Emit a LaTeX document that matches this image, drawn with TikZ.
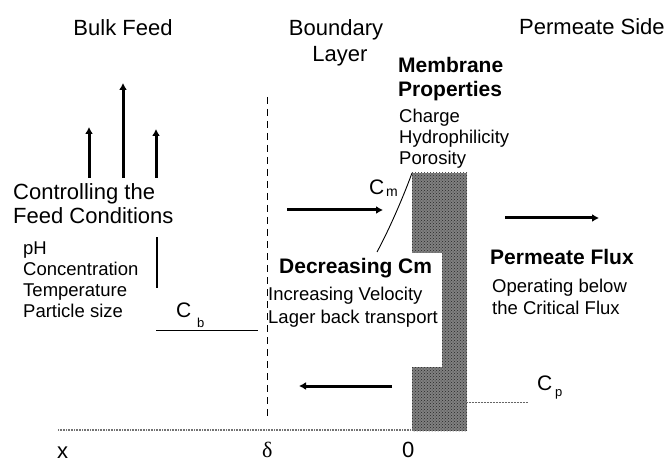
\documentclass[tikz,border=0pt]{standalone}
\usepackage{fontspec}
\setmainfont{Liberation Sans}
\newfontfamily\serifgreek{Liberation Serif}
\usetikzlibrary{arrows.meta,patterns}
\tikzset{
  big/.style={font=\fontsize{22}{25}\selectfont, inner sep=0pt, anchor=base west},
  bigb/.style={font=\fontsize{21}{24}\selectfont\bfseries, inner sep=0pt, anchor=base west},
  small/.style={font=\fontsize{18.5}{21}\selectfont, inner sep=0pt, anchor=base west},
  cfont/.style={font=\fontsize{21}{23}\selectfont, inner sep=0pt, anchor=base west},
  fatarrow/.style={line width=3pt, -{Latex[length=7pt,width=8pt]}},
  thin/.style={line width=0.9pt},
}
\begin{document}
\begin{tikzpicture}[x=1pt,y=-1pt]
\useasboundingbox (0,0) rectangle (671,462);
% headers
\node[big, anchor=base] (bulk) at (123,36) {Bulk Feed};
\node[big, anchor=base] (bl1) at (336,36) {Boundary};
\node[big, anchor=base] (bl2) at (340,62) {Layer};
\node[big] (perm) at (519,35) {Permeate Side};
\node[bigb] (mp1) at (398,73) {Membrane};
\node[bigb] (mp2) at (398,97) {Properties};
\node[small] (ch) at (399,123) {Charge};
\node[small] (hy) at (399,144) {Hydrophilicity};
\node[small] (po) at (399,165) {Porosity};
% membrane
\fill[black!50] (412,173) rectangle (467,431);
\fill[pattern=crosshatch dots, pattern color=black!85] (412,173) rectangle (467,431);
\fill[white] (268,253) rectangle (441.5,367);
% axis
\draw[black!55, line width=1.6pt, dash pattern=on 1pt off 0.6pt] (58,430) coordinate (ax0) -- (412,430) coordinate (ax1);
% dashed boundary
\draw[thin, dash pattern=on 7pt off 5pt] (267,97) coordinate (d0) -- (267,420) coordinate (d1);
% up arrows
\coordinate (ua1) at (89,178); \coordinate (ub1) at (89,127);
\coordinate (ua2) at (123,178); \coordinate (ub2) at (123,83);
\coordinate (ua3) at (156,178); \coordinate (ub3) at (156,129);
\draw[fatarrow] (ua1) -- (ub1);
\draw[fatarrow] (ua2) -- (ub2);
\draw[fatarrow] (ua3) -- (ub3);
% feed conditions
\node[big] (cf1) at (13,200) {Controlling the};
\node[big] (cf2) at (13,223) {Feed Conditions};
\node[small] (ph) at (23,254) {pH};
\node[small] (co) at (23,275) {Concentration};
\node[small] (te) at (23,296) {Temperature};
\node[small] (pa) at (23,317) {Particle size};
\draw[line width=2.4pt] (157,237) coordinate (vl0) -- (157,288) coordinate (vl1);
% Cb
\node[cfont] (cb) at (176,317) {C};
\node[font=\fontsize{13}{15}\selectfont, inner sep=0pt, anchor=base west] (cbs) at (197,327) {b};
\draw[thin] (156,330) coordinate (cb0) -- (258,330) coordinate (cb1);
% Cm
\node[cfont] (cm) at (369,195) {C};
\node[font=\fontsize{14}{16}\selectfont, inner sep=0pt, anchor=base west] (cms) at (386,197) {m};
\draw[thin] (412,173) coordinate (cc0) .. controls (404,195) and (390,228) .. (377,252) coordinate (cc1);
% horizontal arrows
\coordinate (ra0) at (287,210); \coordinate (ra1) at (383,210);
\draw[fatarrow] (ra0) -- (ra1);
\coordinate (la0) at (392,386); \coordinate (la1) at (299,386);
\draw[fatarrow] (la0) -- (la1);
\coordinate (pa0) at (505,218); \coordinate (pa1) at (599,218);
\draw[fatarrow] (pa0) -- (pa1);
% decreasing Cm
\node[bigb] (dc) at (279,273) {Decreasing Cm};
\node[small] (iv) at (268,300) {Increasing Velocity};
\node[small] (lb) at (268,323) {Lager back transport};
% permeate flux
\node[bigb] (pf) at (490,264) {Permeate Flux};
\node[small] (ob) at (492,292) {Operating below};
\node[small] (cfl) at (492,314) {the Critical Flux};
% Cp
\node[cfont] (cp) at (537,390) {C};
\node[font=\fontsize{13}{15}\selectfont, inner sep=0pt, anchor=base west] (cps) at (555,396) {p};
\draw[black!60, line width=1pt, dash pattern=on 1pt off 0.5pt] (467,402) coordinate (cp0) -- (528,402) coordinate (cp1);
% axis labels
\node[big] (xl) at (57,458) {x};
\node[font=\fontsize{22}{24}\selectfont\serifgreek, inner sep=0pt, anchor=base west] (dl) at (262,457) {δ};
\node[big] (zl) at (402,457) {0};
\end{tikzpicture}
\end{document}
